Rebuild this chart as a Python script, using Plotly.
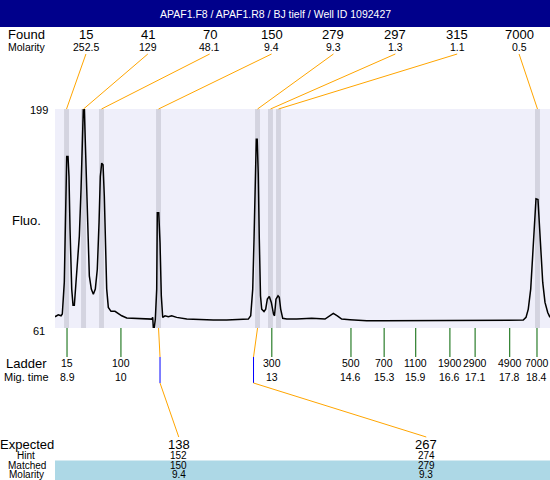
import plotly.graph_objects as go

TITLE = "APAF1.F8 / APAF1.R8 / BJ tielf / Well ID 1092427"

# electropherogram trace: migration time (min) vs fluorescence
mig_time = [
    8.657, 8.724, 8.779, 8.805, 8.845, 8.874, 8.894, 8.92, 8.94, 8.961,
    8.995, 9.021, 9.048, 9.076, 9.116, 9.149, 9.183, 9.209, 9.229, 9.25,
    9.27, 9.298, 9.324, 9.351, 9.391, 9.432, 9.472, 9.512, 9.547, 9.573,
    9.601, 9.628, 9.654, 9.682, 9.702, 9.735, 9.789, 9.87, 9.937, 10.006,
    10.107, 10.24, 10.376, 10.511, 10.612, 10.632, 10.644, 10.665, 10.685, 10.713,
    10.725, 10.754, 10.78, 10.806, 10.834, 10.881, 10.948, 11.016, 11.117, 11.32,
    11.588, 11.857, 12.128, 12.397, 12.565, 12.613, 12.654, 12.68, 12.706, 12.726,
    12.744, 12.765, 12.787, 12.811, 12.835, 12.882, 12.916, 12.949, 12.989, 13.03,
    13.074, 13.094, 13.124, 13.165, 13.191, 13.219, 13.26, 13.341, 13.543, 13.846,
    14.115, 14.216, 14.283, 14.364, 14.452, 14.62, 14.958, 15.293, 15.631, 15.968,
    16.304, 16.642, 16.979, 17.315, 17.652, 17.99, 18.123, 18.178, 18.224, 18.273,
    18.313, 18.345, 18.38, 18.42, 18.447, 18.481, 18.516, 18.562, 18.617, 18.663,
]
fluo = [
    68.1, 69.3, 68.7, 69.8, 89.9, 156.5, 169.1, 169.1, 156.5, 123.1,
    85.5, 75.4, 75.4, 87.5, 102.2, 118.9, 148.2, 183.8, 198.8, 198.8,
    179.6, 148.2, 116.8, 93.8, 85.5, 82.3, 85.5, 98.0, 127.3, 156.5,
    164.9, 163.9, 144.0, 112.6, 85.5, 74.0, 71.5, 71.5, 70.2, 68.7,
    67.3, 67.1, 66.6, 66.6, 66.6, 67.7, 61.4, 61.4, 66.6, 85.5,
    133.6, 133.6, 114.7, 81.3, 67.7, 68.7, 68.1, 68.7, 67.7, 66.6,
    66.2, 66.0, 66.0, 66.2, 66.6, 68.7, 85.5, 116.8, 158.7, 180.0,
    180.0, 158.7, 116.8, 81.3, 72.9, 71.3, 72.9, 79.2, 80.9, 77.1,
    69.8, 68.7, 79.2, 81.3, 80.3, 72.9, 67.1, 66.6, 66.6, 67.1,
    66.6, 68.7, 70.2, 68.7, 66.6, 66.2, 65.6, 65.6, 65.6, 66.0,
    66.0, 66.0, 65.8, 65.8, 66.0, 66.0, 66.0, 67.7, 72.9, 85.5,
    106.4, 127.3, 142.4, 141.9, 127.3, 106.4, 89.7, 77.1, 70.8, 67.7,
]

# found peaks
found_time = [8.89, 9.234, 9.597, 10.75, 12.751, 13.013, 13.175, 18.41]
found_size = ["15", "41", "70", "150", "279", "297", "315", "7000"]
found_molarity = ["252.5", "129", "48.1", "9.4", "9.3", "1.3", "1.1", "0.5"]

# ladder
ladder_time = [8.9, 9.99, 13.04, 14.64, 15.31, 15.949, 16.64, 17.149, 17.849, 18.4]
ladder_size = ["15", "100", "300", "500", "700", "1100", "1900", "2900", "4900", "7000"]
ladder_mig = ["8.9", "10", "13", "14.6", "15.3", "15.9", "16.6", "17.1", "17.8", "18.4"]

# expected fragments
expected_peak_time = [10.75, 12.751]
expected_hint_time = [10.78, 12.67]
expected_size = ["138", "267"]
hint_size = ["152", "274"]
matched_size = ["150", "279"]
matched_molarity = ["9.4", "9.3"]

X_RANGE = [8.657, 18.663]
Y_RANGE = [61, 199]

W, H = 550, 480
ML, MT, MB = 55, 109, 152
PW, PH = W - ML, H - MT - MB

NAVY = "#00008B"
ORANGE = "#FFA500"
GREEN = "#006400"
BLUE = "#0000FF"
BAND = "#D4D4E0"
FONT = "Liberation Sans, Arial, sans-serif"


def px_x(px):
    return (px - ML) / PW


def px_y(py):
    return (H - MB - py) / PH


def t_x(t):
    return (t - X_RANGE[0]) / (X_RANGE[1] - X_RANGE[0])


fig = go.Figure(go.Scatter(
    x=mig_time, y=fluo, mode="lines",
    line=dict(color="black", width=1.5), hoverinfo="skip",
))

shapes = []
annotations = []


def line(x0, y0, x1, y1, color):
    shapes.append(dict(type="line", xref="paper", yref="paper", x0=x0, y0=y0,
                       x1=x1, y1=y1, line=dict(color=color, width=1)))


def text(s, x, y, size, color="black", xanchor="center"):
    annotations.append(dict(text=s, x=x, y=y, xref="paper", yref="paper",
                            showarrow=False, xanchor=xanchor, yanchor="middle",
                            borderpad=0,
                            font=dict(size=size, color=color, family=FONT)))


# title bar
shapes.append(dict(type="rect", xref="paper", yref="paper", x0=px_x(0), x1=1,
                   y0=px_y(27), y1=px_y(0), fillcolor=NAVY, line=dict(width=0),
                   layer="below"))
text(TITLE, px_x(275), px_y(13.5), 10.5, "white")

# peak bands and found labels
n = len(found_time)
for i, t in enumerate(found_time):
    shapes.append(dict(type="rect", xref="x", yref="paper", x0=t - 0.05, x1=t + 0.05,
                       y0=0, y1=1, fillcolor=BAND, line=dict(width=0), layer="below"))
    lx = (i + 0.5) / n
    line(lx, px_y(54), t_x(t), 1, ORANGE)
    text(found_size[i], lx, px_y(34.5), 13)
    text(found_molarity[i], lx, px_y(46.5), 10.5)
text("Found", px_x(26.5), px_y(34.5), 13)
text("Molarity", px_x(27), px_y(46.5), 10.5)

# y labels
text("199", px_x(49), px_y(110), 11, xanchor="right")
text("61", px_x(46), px_y(331), 11, xanchor="right")
text("Fluo.", px_x(26.7), px_y(220), 13)

# ladder
for t, s, m in zip(ladder_time, ladder_size, ladder_mig):
    shapes.append(dict(type="line", xref="x", yref="paper", x0=t, x1=t,
                       y0=px_y(357), y1=0, line=dict(color=GREEN, width=1)))
    text(s, t_x(t), px_y(363.3), 10.5)
    text(m, t_x(t), px_y(376.7), 10.5)
text("Ladder", px_x(26.7), px_y(363.3), 13)
text("Mig. time", px_x(26.5), px_y(376.7), 11)

# matched band
shapes.append(dict(type="rect", xref="paper", yref="paper", x0=0, x1=1,
                   y0=px_y(480), y1=px_y(460.5), fillcolor="#ADD8E6",
                   line=dict(width=0), layer="below"))

# expected fragments
m = len(expected_size)
for i in range(m):
    lx = (i + 0.5) / m
    pt, ht = t_x(expected_peak_time[i]), t_x(expected_hint_time[i])
    line(pt, 0, ht, px_y(357), ORANGE)
    line(ht, px_y(357), ht, px_y(383), BLUE)
    line(ht, px_y(383), lx, px_y(437), ORANGE)
    text(expected_size[i], lx, px_y(444), 13)
    text(hint_size[i], lx, px_y(455.5), 10)
    text(matched_size[i], lx, px_y(465.5), 10)
    text(matched_molarity[i], lx, px_y(474.5), 10)
text("Expected", px_x(27), px_y(444), 13)
text("Hint", px_x(25.5), px_y(455.5), 10)
text("Matched", px_x(26.5), px_y(465.5), 10)
text("Molarity", px_x(26.5), px_y(474.5), 10)

fig.update_layout(
    width=W, height=H,
    margin=dict(l=ML, r=0, t=MT, b=MB),
    paper_bgcolor="white", plot_bgcolor="#EFEFFA",
    showlegend=False,
    xaxis=dict(range=X_RANGE, visible=False, fixedrange=True),
    yaxis=dict(range=Y_RANGE, visible=False, fixedrange=True),
    shapes=shapes, annotations=annotations,
)

fig.write_html("out.html", config=dict(displayModeBar=False),
               post_script="document.body.style.margin = '0';")
